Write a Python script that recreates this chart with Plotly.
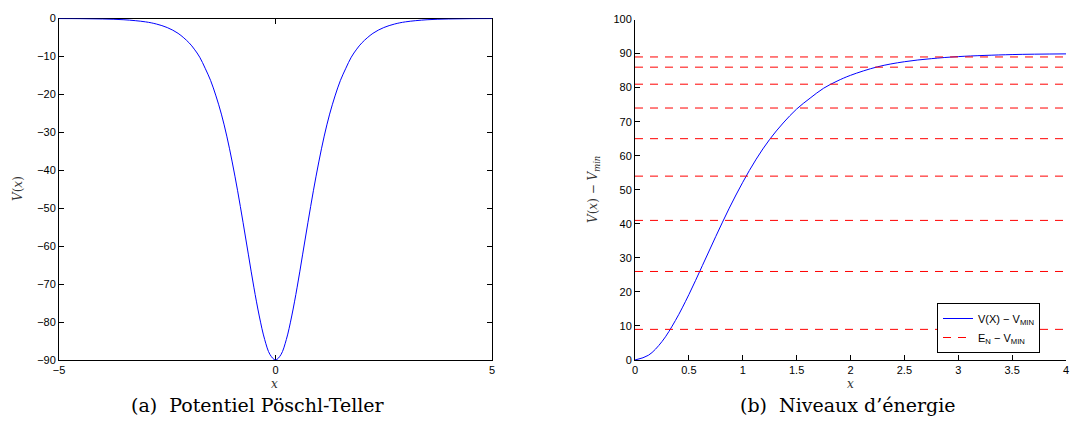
import plotly.graph_objects as go

# ---- data ----
x_left = [-5, -4.5, -4, -3.5, -3, -2.75, -2.5, -2.25, -2, -1.875, -1.75, -1.625, -1.5, -1.375,
          -1.25, -1.125, -1, -0.875, -0.75, -0.625, -0.5, -0.375, -0.25, -0.125, 0,
          0.125, 0.25, 0.375, 0.5, 0.625, 0.75, 0.875, 1, 1.125, 1.25, 1.375, 1.5, 1.625,
          1.75, 1.875, 2, 2.25, 2.5, 2.75, 3, 3.5, 4, 4.5, 5]
v_left = [-0.016, -0.044, -0.121, -0.328, -0.888, -1.46, -2.39, -3.91, -6.36, -8.08, -10.2, -13.1,
          -16.3, -20.4, -25.2, -31.0, -37.8, -45.4, -53.7, -62.3, -70.8, -78.4, -84.6, -88.6, -90,
          -88.6, -84.6, -78.4, -70.8, -62.3, -53.7, -45.4, -37.8, -31.0, -25.2, -20.4, -16.3, -13.1,
          -10.2, -8.08, -6.36, -3.91, -2.39, -1.46, -0.888, -0.328, -0.121, -0.044, -0.016]

x_right = [0, 0.125, 0.25, 0.375, 0.5, 0.625, 0.75, 0.875, 1, 1.125, 1.25, 1.375, 1.5, 1.625,
           1.75, 1.875, 2, 2.25, 2.5, 2.75, 3, 3.5, 4]
v_right = [0, 1.4, 5.4, 11.6, 19.2, 27.7, 36.3, 44.6, 52.2, 59.0, 64.8, 69.6, 73.7, 76.9,
           79.8, 81.9, 83.6, 86.1, 87.6, 88.5, 89.1, 89.7, 89.9]

energy_levels = [9, 26, 41, 54, 65, 74, 81, 86, 89]
level_x_range = [0, 4]

left_xticks = [-5, 0, 5]
left_yticks = [-90, -80, -70, -60, -50, -40, -30, -20, -10, 0]
right_xticks = [0, 0.5, 1, 1.5, 2, 2.5, 3, 3.5, 4]
right_yticks = [0, 10, 20, 30, 40, 50, 60, 70, 80, 90, 100]

W, H = 1070, 441
TICKFONT = dict(family="Liberation Sans, Arial, sans-serif", size=11, color="black")
MATHFONT = dict(family="DejaVu Serif, Liberation Serif, serif", size=12, color="#333")
CAPFONT = dict(family="DejaVu Serif, Liberation Serif, serif", size=19, color="black")

fig = go.Figure()

fig.add_trace(go.Scatter(x=x_left, y=v_left, mode="lines", line=dict(color="blue", width=1, shape="spline"),
                         xaxis="x", yaxis="y", showlegend=False))

lx, ly = [], []
for e in energy_levels:
    lx += [level_x_range[0], level_x_range[1], None]
    ly += [e, e, None]

fig.add_trace(go.Scatter(x=x_right, y=v_right, mode="lines", line=dict(color="blue", width=1, shape="spline"),
                         xaxis="x2", yaxis="y2", name="V(X) − V<sub>MIN</sub>"))
fig.add_trace(go.Scatter(x=lx, y=ly, mode="lines", line=dict(color="red", width=1, dash="8px,7px"),
                         xaxis="x2", yaxis="y2", name="E<sub>N</sub> − V<sub>MIN</sub>"))

def px_x(p):
    return p / W

def px_y(p):
    return (H - p) / H

common = dict(showgrid=False, zeroline=False, showline=True, linecolor="black", linewidth=1,
              ticks="inside", ticklen=5, tickcolor="black", tickfont=TICKFONT, layer="below traces",
              automargin=False)

fig.update_layout(
    width=W, height=H, autosize=False,
    margin=dict(l=0, r=0, t=0, b=0, pad=0, autoexpand=False),
    paper_bgcolor="white", plot_bgcolor="white",
    xaxis=dict(domain=[px_x(59), px_x(492)], range=[-5, 5], tickvals=left_xticks,
               mirror="ticks", anchor="y", **common),
    yaxis=dict(domain=[px_y(360), px_y(18.5)], range=[-90, 0], tickvals=left_yticks,
               mirror="ticks", anchor="x", **common),
    xaxis2=dict(domain=[px_x(635), px_x(1066)], range=[0, 4], tickvals=right_xticks,
                anchor="y2", **common),
    yaxis2=dict(domain=[px_y(360), px_y(19.5)], range=[0, 100], tickvals=right_yticks,
                anchor="x2", **common),
    legend=dict(x=px_x(937), y=px_y(303), xanchor="left", yanchor="top",
                bgcolor="white", bordercolor="black", borderwidth=1,
                font=dict(family="Liberation Sans, Arial, sans-serif", size=11, color="black"),
                itemwidth=30, tracegroupgap=0),
    showlegend=True,
)

ann = [
    dict(x=px_x(275), y=px_y(384), text="<i>x</i>", font=MATHFONT),
    dict(x=px_x(850), y=px_y(384), text="<i>x</i>", font=MATHFONT),
    dict(x=px_x(18), y=px_y(189), text="<i>V</i>(<i>x</i>)", font=MATHFONT, textangle=-90),
    dict(x=px_x(594), y=px_y(190), text="<i>V</i>(<i>x</i>) − <i>V</i><sub><i>min</i></sub>",
         font=MATHFONT, textangle=-90),
    dict(x=px_x(258), y=px_y(405), text="(a)  Potentiel Pöschl-Teller", font=CAPFONT),
    dict(x=px_x(848), y=px_y(405), text="(b)  Niveaux d’énergie", font=CAPFONT),
]
for a in ann:
    a.update(xref="paper", yref="paper", showarrow=False, xanchor="center", yanchor="middle")
fig.update_layout(annotations=ann)

post = (
    "document.documentElement.style.margin='0';"
    "document.documentElement.style.overflow='hidden';"
    "document.body.style.margin='0';"
    "document.body.style.overflow='hidden';"
)

fig.write_html("out.html", config={"displayModeBar": False}, post_script=post)
